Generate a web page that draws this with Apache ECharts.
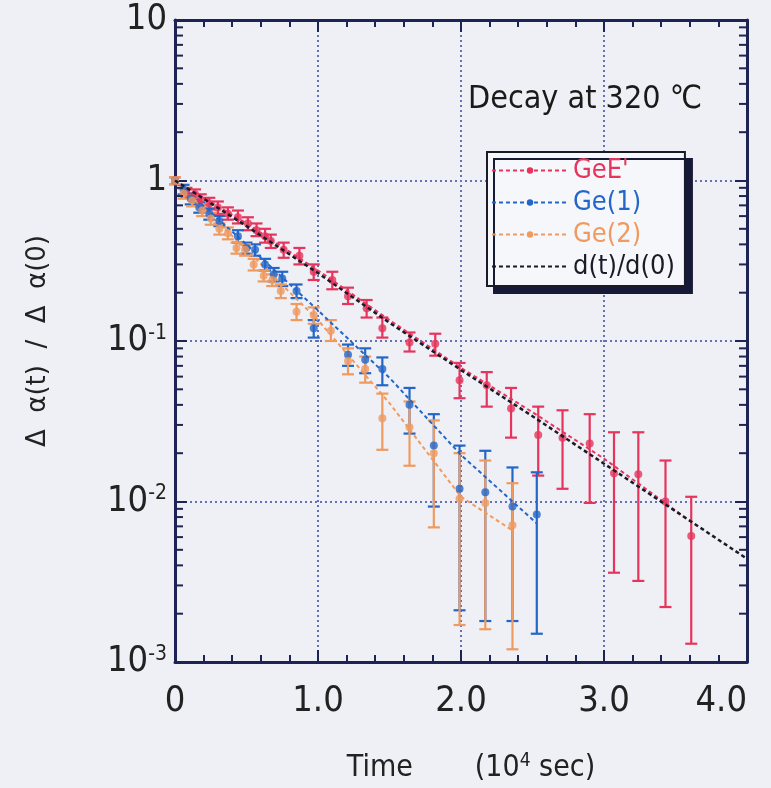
<!DOCTYPE html>
<html>
<head>
<meta charset="utf-8">
<title>Decay at 320 ℃</title>
<script src="https://cdn.jsdelivr.net/npm/echarts@6/dist/echarts.min.js"></script>
<style>
  html, body { margin: 0; padding: 0; background: #eef0f5; }
  #chart { width: 771px; height: 788px; }
</style>
</head>
<body>
<div id="chart"></div>
<script>
// ---- values ----
// GeE' (red)
const geeT  = [0, 0.08, 0.14, 0.18, 0.24, 0.30, 0.37, 0.44, 0.51, 0.57, 0.63, 0.67, 0.76, 0.87, 0.97, 1.10, 1.21, 1.34, 1.45, 1.64, 1.82, 1.99, 2.18, 2.35, 2.54, 2.71, 2.90, 3.07, 3.24, 3.43, 3.61];
const geeY  = [1.0, 0.84, 0.82, 0.76, 0.72, 0.68, 0.62, 0.59, 0.54, 0.49, 0.45, 0.42, 0.37, 0.34, 0.27, 0.24, 0.19, 0.16, 0.12, 0.098, 0.096, 0.057, 0.053, 0.038, 0.026, 0.025, 0.023, 0.015, 0.0148, 0.010, 0.0061];
const geeLo = [0.95, 0.78, 0.76, 0.70, 0.66, 0.62, 0.57, 0.54, 0.49, 0.45, 0.41, 0.38, 0.33, 0.30, 0.24, 0.21, 0.17, 0.14, 0.105, 0.086, 0.081, 0.044, 0.039, 0.025, 0.0145, 0.012, 0.0098, 0.0036, 0.0032, 0.0022, 0.0013];
const geeHi = [1.05, 0.90, 0.88, 0.82, 0.78, 0.74, 0.68, 0.65, 0.59, 0.54, 0.50, 0.46, 0.41, 0.38, 0.30, 0.27, 0.215, 0.18, 0.14, 0.113, 0.111, 0.073, 0.064, 0.051, 0.039, 0.037, 0.035, 0.027, 0.027, 0.018, 0.0107];
// Ge(1) (blue)
const ge1T  = [0, 0.06, 0.11, 0.17, 0.24, 0.31, 0.44, 0.50, 0.56, 0.63, 0.69, 0.75, 0.85, 0.97, 1.21, 1.33, 1.45, 1.64, 1.81, 1.99, 2.17, 2.36, 2.53];
const ge1Y  = [1.0, 0.88, 0.77, 0.68, 0.62, 0.56, 0.45, 0.38, 0.37, 0.30, 0.26, 0.245, 0.205, 0.12, 0.082, 0.0765, 0.067, 0.040, 0.0223, 0.012, 0.0114, 0.0093, 0.0083];
const ge1Lo = [0.95, 0.82, 0.71, 0.63, 0.57, 0.52, 0.41, 0.35, 0.34, 0.275, 0.235, 0.22, 0.185, 0.105, 0.070, 0.063, 0.053, 0.0265, 0.0093, 0.0021, 0.0018, 0.0018, 0.0015];
const ge1Hi = [1.05, 0.94, 0.83, 0.73, 0.67, 0.60, 0.49, 0.41, 0.40, 0.325, 0.285, 0.27, 0.225, 0.135, 0.095, 0.090, 0.079, 0.051, 0.035, 0.0223, 0.0207, 0.0163, 0.0152];
// Ge(2) (orange)
const ge2T  = [0, 0.06, 0.12, 0.19, 0.25, 0.31, 0.37, 0.43, 0.49, 0.55, 0.62, 0.68, 0.74, 0.85, 0.97, 1.09, 1.21, 1.33, 1.45, 1.64, 1.81, 1.99, 2.17, 2.36];
const ge2Y  = [1.0, 0.83, 0.75, 0.65, 0.58, 0.50, 0.47, 0.38, 0.37, 0.30, 0.255, 0.24, 0.205, 0.152, 0.145, 0.116, 0.075, 0.067, 0.033, 0.029, 0.020, 0.0104, 0.0098, 0.0071];
const ge2Lo = [0.95, 0.77, 0.69, 0.60, 0.53, 0.46, 0.43, 0.35, 0.34, 0.275, 0.235, 0.22, 0.185, 0.135, 0.128, 0.100, 0.062, 0.055, 0.021, 0.0167, 0.0069, 0.0017, 0.0016, 0.0012];
const ge2Hi = [1.05, 0.89, 0.81, 0.70, 0.63, 0.54, 0.51, 0.41, 0.40, 0.325, 0.275, 0.26, 0.225, 0.17, 0.162, 0.135, 0.090, 0.080, 0.047, 0.042, 0.032, 0.020, 0.018, 0.013];
// dashed curves drawn through each set
const geeFitT = [0, 0.5, 1.0, 1.5, 2.0, 2.5, 3.0, 3.58];
const geeFitY = [1.0, 0.54, 0.275, 0.135, 0.068, 0.036, 0.0185, 0.0078];
const ge1FitT = [0, 0.5, 1.0, 1.5, 2.0, 2.53];
const ge1FitY = [1.0, 0.40, 0.155, 0.059, 0.0195, 0.0073];
const ge2FitT = [0, 0.5, 1.0, 1.5, 2.0, 2.36];
const ge2FitY = [1.0, 0.37, 0.135, 0.041, 0.0107, 0.0066];
const dT = [0, 0.5, 1.0, 1.5, 2.0, 2.5, 3.0, 3.5, 4.0];
const dY = [1.0, 0.52, 0.265, 0.13, 0.066, 0.034, 0.0172, 0.0087, 0.0044];
// axis ticks
const yDecades = [0.001, 0.01, 0.1, 1, 10];
const yMinor = [];
yDecades.slice(0, -1).forEach(function (d) {
  for (let k = 2; k <= 9; k++) yMinor.push(d * k);
});

const RED = "#e6345c", BLUE = "#2466c8", ORANGE = "#ef9a60", BLACK = "#1b1b28";
const FRAME = "#1d2454", GRIDC = "#6472b4";
const FONT = '"Liberation Sans Narrow", "DejaVu Sans Condensed", "Liberation Sans", sans-serif';

function pairs(t, y) { return t.map(function (v, i) { return [v, y[i]]; }); }
function bars(t, y, lo, hi) { return t.map(function (v, i) { return [v, y[i], lo[i], hi[i]]; }); }

// error bar with caps
function renderErr(params, api) {
  const x = api.value(0);
  const lo = api.coord([x, api.value(2)]);
  const hi = api.coord([x, api.value(3)]);
  const cap = 6;
  const st = { stroke: api.visual("color"), lineWidth: 2.2 };
  return {
    type: "group",
    children: [
      { type: "line", shape: { x1: lo[0], y1: lo[1], x2: hi[0], y2: hi[1] }, style: st },
      { type: "line", shape: { x1: lo[0] - cap, y1: lo[1], x2: lo[0] + cap, y2: lo[1] }, style: st },
      { type: "line", shape: { x1: hi[0] - cap, y1: hi[1], x2: hi[0] + cap, y2: hi[1] }, style: st }
    ]
  };
}

// log minor ticks on the left and right frame
function renderMinor(params, api) {
  const p = api.coord([0, api.value(1)]);
  const cs = params.coordSys;
  const st = { stroke: FRAME, lineWidth: 2 };
  return {
    type: "group",
    children: [
      { type: "line", shape: { x1: cs.x, y1: p[1], x2: cs.x + 8, y2: p[1] }, style: st },
      { type: "line", shape: { x1: cs.x + cs.width - 8, y1: p[1], x2: cs.x + cs.width, y2: p[1] }, style: st }
    ]
  };
}

function yLabel(v) {
  const e = Math.round(Math.log10(v));
  if (e === 1) return "{b|10}";
  if (e === 0) return "{b|1}";
  return "{b|10}{s|" + e + "}";
}

const chart = echarts.init(document.getElementById("chart"));

const xBase = {
  type: "value", min: 0, max: 4, interval: 1,
  axisLine: { show: true, onZero: false, lineStyle: { color: FRAME, width: 3 } },
  axisTick: { show: true, inside: true, length: 12, lineStyle: { color: FRAME, width: 2 } },
  minorTick: { show: true, splitNumber: 5, length: 7, lineStyle: { color: FRAME, width: 2 } },
  splitLine: { show: false }
};
const yBase = {
  type: "log", logBase: 10, min: 0.001, max: 10,
  axisLine: { show: true, onZero: false, lineStyle: { color: FRAME, width: 3 } },
  axisTick: { show: true, inside: true, length: 12, lineStyle: { color: FRAME, width: 2 } },
  splitLine: { show: false }
};

const option = {
  backgroundColor: "#eef0f5",
  animation: false,
  textStyle: { fontFamily: FONT },
  grid: { left: 175, right: 24, top: 20, bottom: 126, containLabel: false, outerBoundsMode: "none" },
  legend: {
    orient: "vertical",
    left: 487, top: 152,
    padding: [5, 10, 6, 4],
    itemGap: 5,
    itemWidth: 76,
    itemHeight: 8,
    selectedMode: false,
    backgroundColor: "#f6f7fa",
    borderColor: BLACK,
    borderWidth: 2,
    borderRadius: 0,
    shadowColor: "#161a36",
    shadowOffsetX: 7,
    shadowOffsetY: 7,
    shadowBlur: 0,
    textStyle: { fontFamily: FONT, fontSize: 27, lineHeight: 27 },
    data: [
      { name: "GeE'", textStyle: { color: RED } },
      { name: "Ge(1)", textStyle: { color: BLUE } },
      { name: "Ge(2)", textStyle: { color: ORANGE } },
      { name: "d(t)/d(0)", textStyle: { color: BLACK }, itemStyle: { opacity: 0 } }
    ]
  },
  graphic: [
    {
      type: "text", left: 468, top: 84, z: 10,
      style: { text: "Decay at 320 ℃", font: '32px ' + FONT, fill: "#1a1a1a" }
    }
  ],
  xAxis: [
    Object.assign({}, xBase, {
      position: "bottom",
      axisLabel: {
        show: true, margin: 22, color: "#222", fontSize: 36, fontFamily: FONT,
        alignMaxLabel: "right",
        formatter: function (v) { return v === 0 ? "0" : v.toFixed(1); }
      },
      splitLine: { show: true, lineStyle: { color: GRIDC, width: 2, type: [2, 3] } },
      name: "{sp0| }{a|Time}{sp| }{a|(10}{s|4}{a| sec)}",
      nameLocation: "middle",
      nameGap: 90,
      nameMoveOverlap: false,
      nameTextStyle: {
        rich: {
          a: { fontSize: 30, fontFamily: FONT, color: "#222", lineHeight: 32 },
          sp0: { width: 20 },
          sp: { width: 62 },
          s: { fontSize: 19, fontFamily: FONT, color: "#222", verticalAlign: "top", lineHeight: 16 }
        }
      }
    }),
    Object.assign({}, xBase, { position: "top", axisLabel: { show: false } })
  ],
  yAxis: [
    Object.assign({}, yBase, {
      position: "left",
      axisLabel: {
        show: true, margin: 8, formatter: yLabel,
        rich: {
          b: { fontSize: 36, fontFamily: FONT, color: "#222", lineHeight: 36 },
          s: { fontSize: 21, fontFamily: FONT, color: "#222", verticalAlign: "top", lineHeight: 18 }
        }
      },
      splitLine: { show: true, lineStyle: { color: GRIDC, width: 2, type: [2, 3] } },
      name: "Δ  α(t)  /  Δ  α(0)",
      nameLocation: "middle",
      nameRotate: 90,
      nameGap: 124,
      nameMoveOverlap: false,
      nameTextStyle: { fontSize: 26, color: "#222", fontFamily: '"DejaVu Sans", sans-serif' }
    }),
    Object.assign({}, yBase, { position: "right", axisLabel: { show: false } })
  ],
  series: [
    {
      name: "minor", type: "custom", renderItem: renderMinor, silent: true,
      data: yMinor.map(function (v) { return [0, v]; }), z: 5
    },
    // GeE'
    {
      name: "GeE'", type: "line", data: pairs(geeFitT, geeFitY), showSymbol: false,
      symbol: "circle", symbolSize: 6, color: RED,
      lineStyle: { color: RED, width: 2, type: [4, 3] }, itemStyle: { color: RED }, z: 3
    },
    { name: "GeE' err", type: "custom", renderItem: renderErr, data: bars(geeT, geeY, geeLo, geeHi), itemStyle: { color: RED }, z: 3 },
    { name: "GeE' pts", type: "scatter", data: pairs(geeT, geeY), symbolSize: 8, itemStyle: { color: RED }, z: 4 },
    // Ge(1)
    {
      name: "Ge(1)", type: "line", data: pairs(ge1FitT, ge1FitY), showSymbol: false,
      symbol: "circle", symbolSize: 6, color: BLUE,
      lineStyle: { color: BLUE, width: 2, type: [4, 3] }, itemStyle: { color: BLUE }, z: 3
    },
    { name: "Ge(1) err", type: "custom", renderItem: renderErr, data: bars(ge1T, ge1Y, ge1Lo, ge1Hi), itemStyle: { color: BLUE }, z: 3 },
    { name: "Ge(1) pts", type: "scatter", data: pairs(ge1T, ge1Y), symbolSize: 8, itemStyle: { color: BLUE }, z: 4 },
    // Ge(2)
    {
      name: "Ge(2)", type: "line", data: pairs(ge2FitT, ge2FitY), showSymbol: false,
      symbol: "circle", symbolSize: 6, color: ORANGE,
      lineStyle: { color: ORANGE, width: 2, type: [4, 3] }, itemStyle: { color: ORANGE }, z: 3
    },
    { name: "Ge(2) err", type: "custom", renderItem: renderErr, data: bars(ge2T, ge2Y, ge2Lo, ge2Hi), itemStyle: { color: ORANGE }, z: 3 },
    { name: "Ge(2) pts", type: "scatter", data: pairs(ge2T, ge2Y), symbolSize: 8, itemStyle: { color: ORANGE }, z: 4 },
    // d(t)/d(0)
    {
      name: "d(t)/d(0)", type: "line", data: pairs(dT, dY), showSymbol: false,
      symbol: "circle", symbolSize: 6, color: BLACK,
      lineStyle: { color: BLACK, width: 2.5, type: [4, 3] }, itemStyle: { color: BLACK }, z: 5
    }
  ]
};

chart.setOption(option);
window.addEventListener("resize", function () { chart.resize(); });
</script>
</body>
</html>
